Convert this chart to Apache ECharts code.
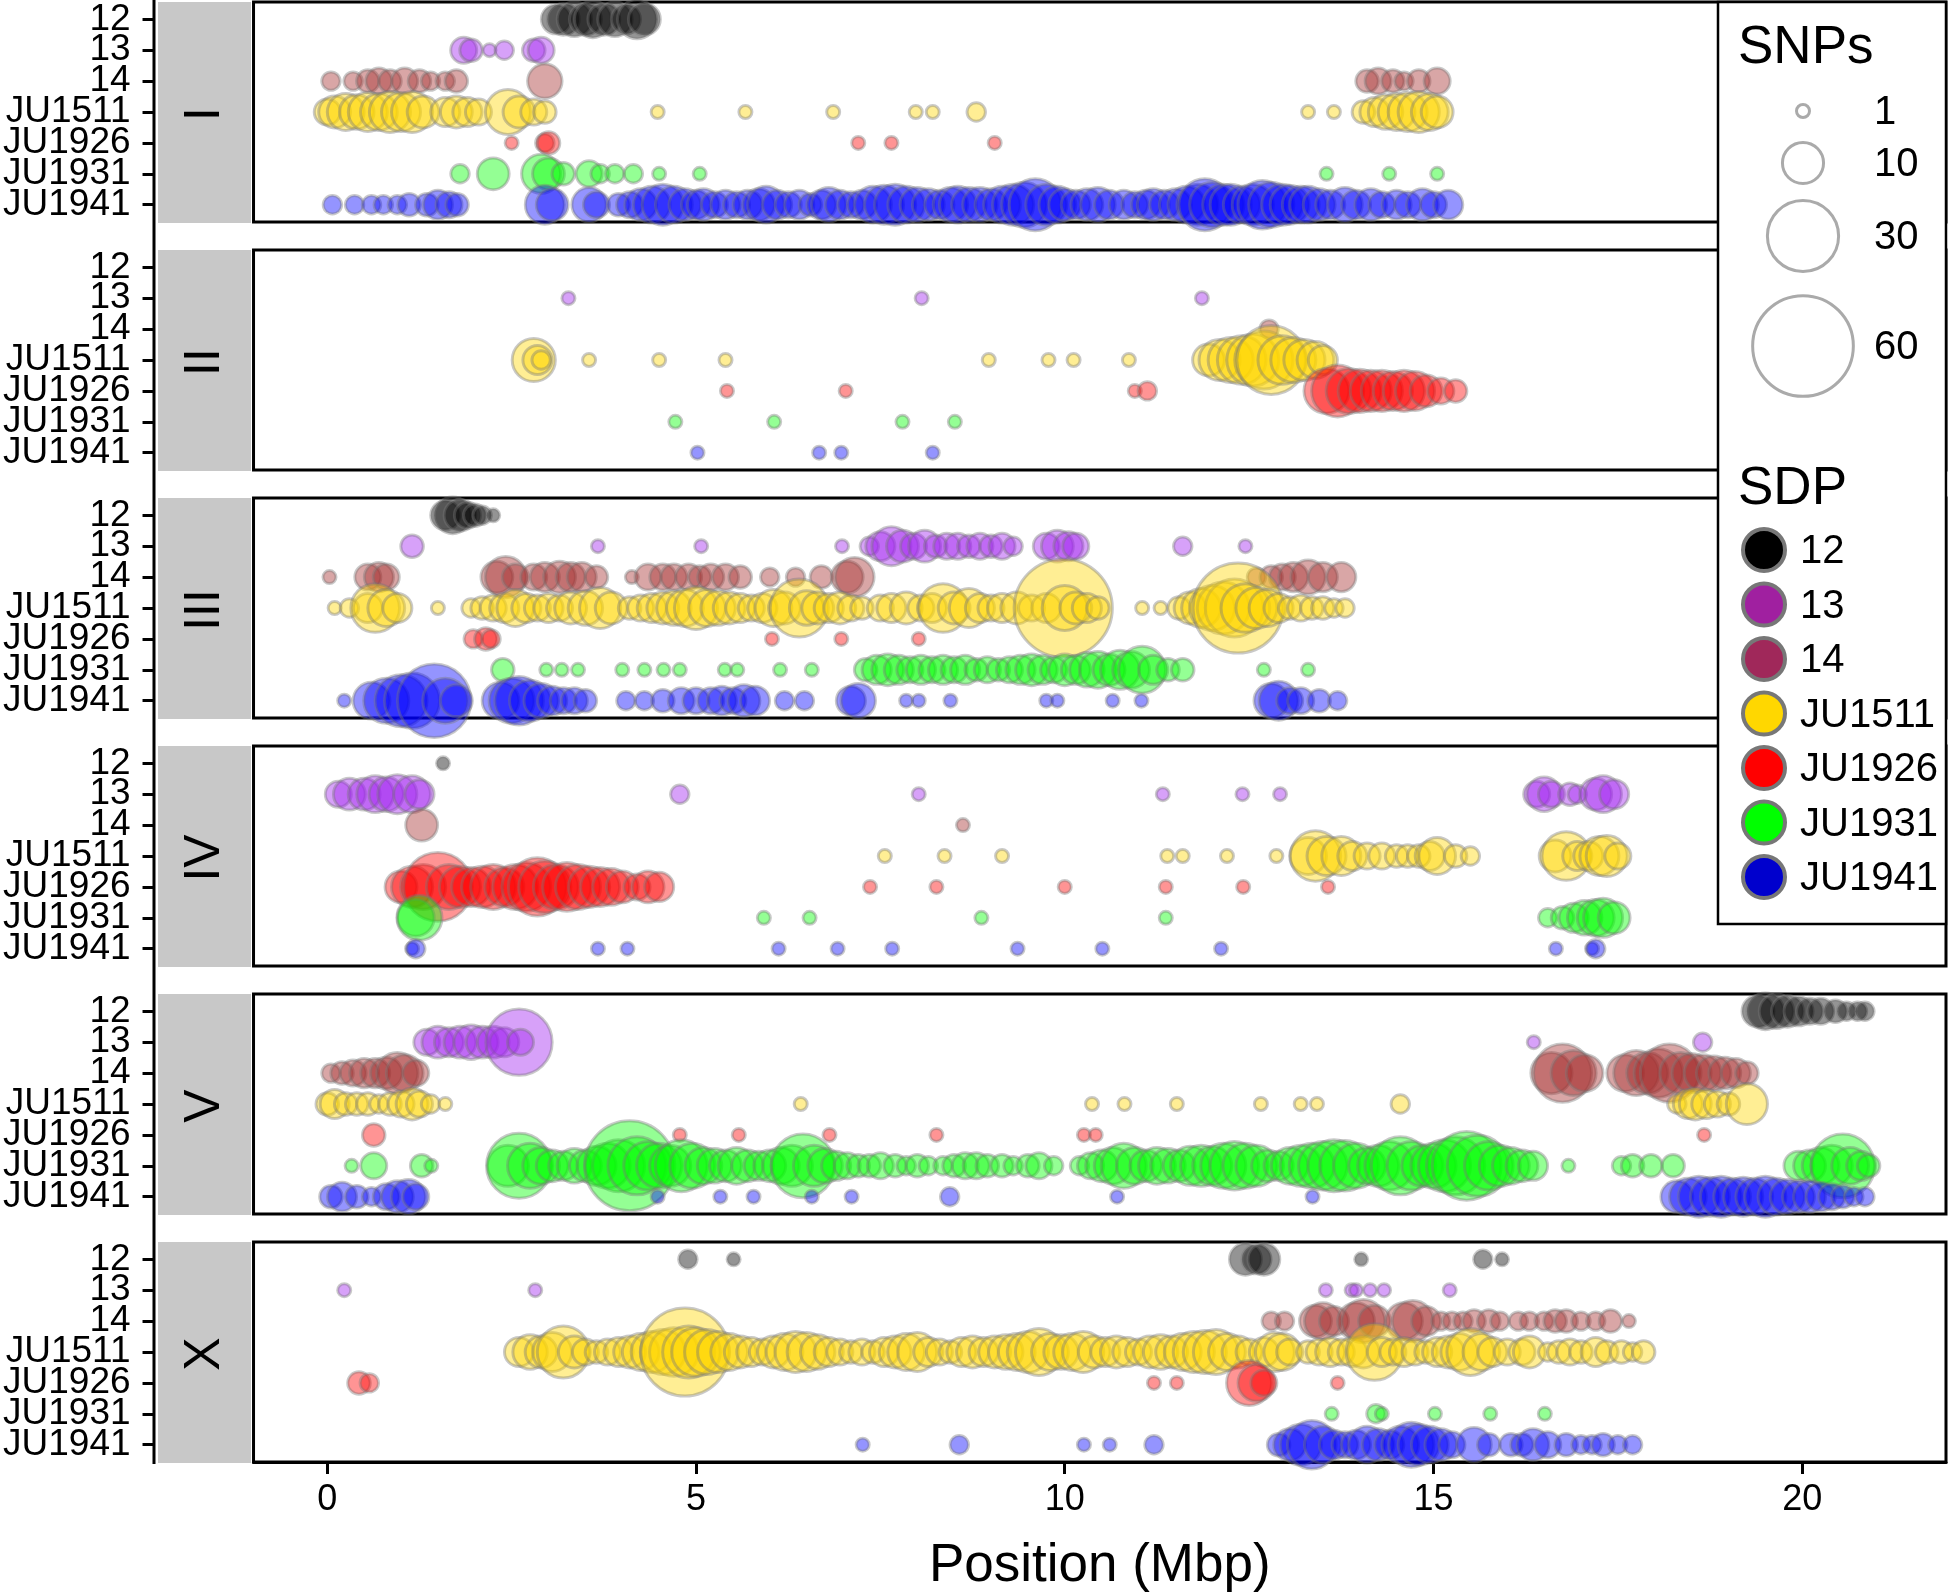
<!DOCTYPE html>
<html>
<head>
<meta charset="utf-8">
<script src="https://cdn.jsdelivr.net/npm/echarts@6/dist/echarts.min.js"></script>
<style>html,body{margin:0;padding:0;background:#fff}#c{width:1948px;height:1596px}</style>
</head>
<body>
<div id="c"></div>
<script>
// ---------- tick labels / categories ----------
const ROWS = ['12','13','14','JU1511','JU1926','JU1931','JU1941'];
const CHROMS = ['I','II','III','IV','V','X'];
const X_TICKS = [0,5,10,15,20];
const SNP_LEGEND = [1,10,30,60];
const SDP_LEGEND = ['12','13','14','JU1511','JU1926','JU1931','JU1941'];

// ---------- data: [position (Mbp), SNP count] ----------
// Chromosome I
const I_12 = [[3.1,5],[3.2,6],[3.35,7],[3.5,6],[3.6,8],[3.75,6],[3.9,7],[4.05,5],[4.2,9],[4.3,6]];
const I_13 = [[1.85,4],[1.95,3],[2.2,1],[2.4,2],[2.8,3],[2.9,4]];
const I_14 = [[0.05,2],[0.35,2],[0.55,3],[0.7,4],[0.85,3],[1.05,4],[1.25,3],[1.4,2],[1.6,2],[1.75,3],[2.95,7],
  [14.1,3],[14.25,4],[14.45,3],[14.6,2],[14.8,3],[15.05,4]];
const I_JU1511 = [[0.0,4],[0.1,6],[0.25,8],[0.4,7],[0.55,9],[0.7,8],[0.85,10],[1.0,9],[1.15,10],[1.3,6],[1.6,5],[1.75,6],[1.9,5],[2.05,4],[2.45,12],[2.6,6],[2.8,4],[2.95,3],
  [4.48,1],[5.67,1],[6.86,1],[7.98,1],[8.21,1],[8.8,2],[13.3,1],[13.65,1],[14.05,3],[14.2,5],[14.35,7],[14.5,8],[14.65,9],[14.8,10],[14.95,8],[15.05,6]];
const I_JU1926 = [[2.5,1],[2.95,2],[3.0,3],[7.2,1],[7.65,1],[9.05,1]];
const I_JU1931 = [[1.8,2],[2.25,6],[2.9,9],[3.0,6],[3.2,3],[3.55,4],[3.7,2],[3.9,2],[4.15,2],[4.5,1],[5.05,1],[13.55,1],[14.4,1],[15.05,1]];
const I_JU1941 = [[0.07,2],[0.37,2],[0.6,2],[0.76,2],[0.95,2],[1.11,3],[1.35,3],[1.5,5],[1.65,4],[1.76,3],[2.95,9],[3.05,6],[3.55,7],[3.65,4],[3.95,3],[4.1,4],[4.25,6],[4.4,8],[4.55,10],[4.7,8],[4.85,6],[5.0,5],[5.1,6],[5.25,4],[5.4,5],[5.55,4],[5.7,5],[5.85,6],[5.95,8],[6.1,5],[6.25,4],[6.4,5],[6.55,3],[6.7,5],[6.8,7],[6.95,5],[7.1,4],[7.25,5],[7.4,8],[7.55,9],[7.7,10],[7.85,8],[8.0,7],[8.15,6],[8.3,5],[8.45,7],[8.55,8],[8.7,7],[8.85,7],[9.0,6],[9.15,8],[9.3,10],[9.45,12],[9.6,16],[9.75,10],[9.9,8],[10.0,6],[10.15,5],[10.3,6],[10.45,7],[10.6,5],[10.8,5],[10.95,4],[11.1,5],[11.2,6],[11.35,5],[11.5,6],[11.65,8],[11.8,10],[11.9,16],[12.0,12],[12.15,10],[12.25,10],[12.4,8],[12.55,10],[12.68,14],[12.8,12],[12.95,10],[13.05,9],[13.2,8],[13.3,8],[13.45,6],[13.6,5],[13.8,7],[13.95,5],[14.15,6],[14.3,4],[14.5,5],[14.65,4],[14.85,6],[15.0,4],[15.2,5]];

// Chromosome II
const II_12 = [];
const II_13 = [[3.27,1],[8.06,1],[11.86,1]];
const II_14 = [[12.77,2]];
const II_JU1511 = [[2.8,11],[2.85,5],[2.9,2],[3.55,1],[4.5,1],[5.4,1],[8.97,1],[9.78,1],[10.12,1],[10.87,1],[11.95,6],[12.1,10],[12.25,12],[12.4,14],[12.55,16],[12.7,20],[12.8,28],[12.95,14],[13.1,12],[13.25,10],[13.4,8],[13.5,5]];
const II_JU1926 = [[5.42,1],[7.03,1],[10.95,1],[11.12,2],[13.55,12],[13.7,16],[13.85,12],[14.0,11],[14.15,10],[14.3,10],[14.45,9],[14.6,10],[14.75,9],[14.9,6],[15.1,4],[15.3,3]];
const II_JU1931 = [[4.72,1],[6.06,1],[7.8,1],[8.51,1]];
const II_JU1941 = [[5.02,1],[6.67,1],[6.97,1],[8.21,1]];

// Chromosome III
const III_12 = [[1.6,5],[1.7,8],[1.8,6],[1.9,4],[2.0,3],[2.1,2],[2.25,1]];
const III_13 = [[1.15,3],[3.67,1],[5.07,1],[6.98,1],[7.35,2],[7.5,5],[7.65,9],[7.8,6],[7.95,4],[8.1,6],[8.25,3],[8.4,4],[8.55,4],[8.7,3],[8.85,4],[9.0,3],[9.15,4],[9.3,2],[9.75,4],[9.9,6],[10.05,5],[10.15,4],[11.6,2],[12.45,1]];
const III_14 = [[0.03,1],[0.55,4],[0.7,5],[0.8,4],[2.3,6],[2.42,10],[2.55,4],[2.8,4],[2.95,5],[3.15,6],[3.3,5],[3.45,5],[3.65,3],[4.13,1],[4.35,4],[4.55,4],[4.7,4],[4.9,4],[5.05,3],[5.2,4],[5.4,4],[5.6,3],[6.0,2],[6.35,2],[6.7,3],[7.05,6],[7.15,9],[12.6,2],[12.8,3],[12.95,4],[13.1,5],[13.3,7],[13.5,5],[13.75,5]];
const III_JU1511 = [[0.1,1],[0.3,2],[0.55,5],[0.65,14],[0.8,8],[0.95,5],[1.5,1],[1.95,2],[2.1,3],[2.25,4],[2.4,5],[2.55,8],[2.7,5],[2.85,4],[3.0,5],[3.15,4],[3.3,6],[3.5,7],[3.7,10],[3.85,6],[4.1,3],[4.25,4],[4.4,5],[4.55,6],[4.7,7],[4.85,8],[5.0,11],[5.15,8],[5.3,7],[5.45,6],[5.6,5],[5.75,4],[5.9,5],[6.05,8],[6.2,6],[6.4,20],[6.5,7],[6.65,6],[6.8,5],[6.95,6],[7.1,4],[7.25,3],[7.5,4],[7.65,5],[7.85,6],[8.05,4],[8.2,5],[8.35,14],[8.5,6],[8.7,9],[8.85,5],[9.0,4],[9.15,5],[9.35,6],[9.55,4],[9.75,5],[9.98,57],[10.0,12],[10.15,6],[10.3,5],[10.45,3],[11.05,1],[11.3,1],[11.55,3],[11.7,6],[11.85,9],[12.0,12],[12.15,16],[12.3,20],[12.35,48],[12.45,14],[12.6,10],[12.75,8],[12.9,5],[13.05,3],[13.2,4],[13.35,3],[13.5,3],[13.65,2],[13.8,2]];
const III_JU1926 = [[1.98,2],[2.15,3],[2.22,2],[6.03,1],[6.97,1],[8.02,1]];
const III_JU1931 = [[2.38,3],[2.97,1],[3.18,1],[3.4,1],[4.0,1],[4.3,1],[4.56,1],[4.78,1],[5.39,1],[5.56,1],[6.14,1],[6.57,1],[7.3,3],[7.45,5],[7.6,6],[7.75,5],[7.9,4],[8.05,5],[8.2,4],[8.35,5],[8.5,4],[8.65,5],[8.8,3],[8.95,4],[9.1,3],[9.25,4],[9.4,5],[9.55,6],[9.7,5],[9.85,4],[10.0,6],[10.15,5],[10.3,7],[10.45,8],[10.6,6],[10.75,9],[10.9,8],[11.05,13],[11.2,5],[11.4,3],[11.6,3],[12.7,1],[13.3,1]];
const III_JU1941 = [[0.23,1],[0.6,8],[0.8,12],[1.0,16],[1.15,18],[1.45,32],[1.6,12],[1.75,6],[2.35,8],[2.5,12],[2.6,14],[2.75,10],[2.9,7],[3.05,5],[3.2,4],[3.35,4],[3.5,3],[4.05,2],[4.3,2],[4.55,3],[4.8,4],[5.0,4],[5.2,4],[5.35,5],[5.5,4],[5.65,6],[5.8,5],[6.2,2],[6.47,2],[7.1,5],[7.2,7],[7.85,1],[8.02,1],[8.45,1],[9.75,1],[9.9,1],[10.65,1],[11.04,1],[12.8,7],[12.9,9],[13.05,4],[13.2,4],[13.45,3],[13.7,2]];

// Chromosome IV
const IV_12 = [[1.57,1]];
const IV_13 = [[0.15,4],[0.3,6],[0.5,6],[0.65,8],[0.8,7],[0.95,9],[1.15,8],[1.25,5],[4.78,2],[8.02,1],[11.33,1],[12.41,1],[12.92,1],[16.4,4],[16.5,7],[16.6,4],[16.85,3],[16.95,2],[17.2,6],[17.3,8],[17.45,5]];
const IV_14 = [[1.28,6],[8.62,1]];
const IV_JU1511 = [[7.56,1],[8.37,1],[9.15,1],[11.39,1],[11.6,1],[12.2,1],[12.87,1],[13.3,8],[13.4,15],[13.55,9],[13.75,9],[13.9,5],[14.1,4],[14.3,4],[14.5,3],[14.65,3],[14.8,3],[14.95,5],[15.05,8],[15.3,3],[15.5,2],[16.65,6],[16.8,14],[16.95,5],[17.1,5],[17.25,9],[17.35,10],[17.5,4]];
const IV_JU1926 = [[1.0,6],[1.15,10],[1.3,12],[1.5,28],[1.65,12],[1.8,10],[1.95,9],[2.1,10],[2.25,12],[2.4,9],[2.55,12],[2.7,14],[2.85,20],[2.95,16],[3.1,12],[3.25,14],[3.4,12],[3.55,10],[3.7,9],[3.85,8],[4.0,6],[4.2,4],[4.35,6],[4.5,5],[7.36,1],[8.26,1],[10.0,1],[11.37,1],[12.42,1],[13.57,1]];
const IV_JU1931 = [[1.2,8],[1.25,12],[5.92,1],[6.54,1],[8.87,1],[11.37,1],[16.55,2],[16.75,3],[16.9,5],[17.05,7],[17.2,8],[17.3,9],[17.45,6]];
const IV_JU1941 = [[1.15,1],[1.2,2],[3.67,1],[4.07,1],[6.12,1],[6.92,1],[7.66,1],[9.36,1],[10.51,1],[12.12,1],[16.66,1],[17.15,1],[17.2,2]];

// Chromosome V
const V_12 = [[19.4,6],[19.5,8],[19.65,7],[19.8,6],[19.95,5],[20.1,4],[20.25,4],[20.45,3],[20.6,2],[20.75,2],[20.85,2]];
const V_13 = [[1.35,4],[1.5,6],[1.65,5],[1.8,6],[1.95,7],[2.1,6],[2.25,6],[2.4,5],[2.6,26],[2.62,4],[16.36,1],[18.65,2]];
const V_14 = [[0.05,2],[0.2,3],[0.35,4],[0.5,5],[0.65,5],[0.8,6],[0.95,10],[1.05,8],[1.2,4],[16.6,10],[16.75,20],[16.9,12],[17.05,8],[17.6,8],[17.75,12],[17.9,10],[18.05,14],[18.2,20],[18.35,10],[18.5,9],[18.65,8],[18.8,7],[18.95,6],[19.1,5],[19.25,3]];
const V_JU1511 = [[0.0,3],[0.1,5],[0.25,3],[0.4,3],[0.55,3],[0.7,2],[0.85,3],[1.0,4],[1.15,6],[1.25,4],[1.4,2],[1.6,1],[6.42,1],[10.37,1],[10.81,1],[11.52,1],[12.66,1],[13.2,1],[13.42,1],[14.55,2],[18.3,2],[18.45,5],[18.55,6],[18.7,5],[18.85,4],[19.0,3],[19.25,10]];
const V_JU1926 = [[0.63,3],[4.78,1],[5.58,1],[6.81,1],[8.26,1],[10.26,1],[10.42,1],[18.67,1]];
const V_JU1931 = [[0.33,1],[0.63,4],[1.28,3],[1.41,1],[2.45,10],[2.6,25],[2.75,12],[2.9,8],[3.05,6],[3.2,5],[3.35,7],[3.5,6],[3.65,9],[3.8,12],[3.95,16],[4.1,48],[4.2,20],[4.35,14],[4.5,12],[4.65,10],[4.8,16],[4.95,12],[5.1,8],[5.25,7],[5.4,6],[5.55,8],[5.7,6],[5.85,5],[6.0,6],[6.15,8],[6.3,10],[6.45,24],[6.6,10],[6.75,7],[6.9,5],[7.05,4],[7.2,3],[7.35,3],[7.5,4],[7.7,3],[7.85,2],[8.0,3],[8.15,2],[8.35,2],[8.5,3],[8.65,4],[8.8,4],[8.95,3],[9.15,3],[9.3,2],[9.5,3],[9.65,4],[9.85,2],[10.2,2],[10.35,4],[10.5,6],[10.65,8],[10.8,12],[10.95,8],[11.1,6],[11.25,8],[11.4,7],[11.55,6],[11.7,9],[11.85,10],[12.0,9],[12.15,12],[12.3,14],[12.45,12],[12.6,10],[12.75,6],[12.9,5],[13.05,8],[13.2,10],[13.35,12],[13.5,14],[13.65,16],[13.8,15],[13.95,12],[14.1,8],[14.25,10],[14.4,14],[14.55,20],[14.7,14],[14.85,10],[15.0,12],[15.15,16],[15.3,20],[15.45,28],[15.6,22],[15.75,14],[15.9,10],[16.05,8],[16.2,6],[16.35,5],[16.83,1],[17.55,2],[17.7,3],[17.95,3],[18.25,3],[19.95,5],[20.1,6],[20.25,8],[20.4,10],[20.55,24],[20.65,8],[20.8,5],[20.9,3]];
const V_JU1941 = [[0.05,3],[0.2,5],[0.4,3],[0.6,2],[0.8,4],[0.95,6],[1.1,7],[1.2,4],[4.48,1],[5.33,1],[5.78,1],[6.57,1],[7.11,1],[8.44,2],[10.71,1],[13.36,1],[18.3,6],[18.45,8],[18.6,10],[18.75,9],[18.9,10],[19.05,8],[19.2,9],[19.35,8],[19.5,10],[19.65,8],[19.8,7],[19.95,6],[20.1,6],[20.25,5],[20.4,4],[20.55,3],[20.7,2],[20.85,2]];

// Chromosome X
const X_12 = [[4.89,2],[5.51,1],[12.45,6],[12.6,5],[12.7,6],[14.02,1],[15.67,2],[15.93,1]];
const X_13 = [[0.23,1],[2.82,1],[13.54,1],[13.89,1],[13.95,1],[14.14,1],[14.33,1],[15.22,1]];
const X_14 = [[12.8,2],[12.98,2],[13.4,6],[13.5,8],[13.65,5],[13.95,8],[14.05,11],[14.2,6],[14.6,8],[14.72,10],[14.9,5],[15.1,2],[15.25,2],[15.4,2],[15.55,3],[15.75,3],[15.9,2],[16.15,2],[16.3,2],[16.5,2],[16.65,3],[16.8,3],[17.0,2],[17.2,2],[17.4,3],[17.65,1]];
const X_JU1511 = [[2.6,5],[2.75,7],[2.9,6],[3.05,9],[3.2,16],[3.35,6],[3.5,4],[3.65,3],[3.8,4],[3.95,5],[4.1,6],[4.25,8],[4.4,10],[4.55,12],[4.7,14],[4.85,46],[4.9,16],[5.0,14],[5.15,12],[5.3,10],[5.45,8],[5.6,6],[5.75,5],[5.9,4],[6.05,6],[6.2,8],[6.35,10],[6.5,9],[6.65,7],[6.8,5],[6.95,4],[7.1,3],[7.25,4],[7.4,3],[7.55,5],[7.7,6],[7.85,8],[8.0,9],[8.15,5],[8.3,4],[8.45,3],[8.6,5],[8.75,6],[8.9,5],[9.05,6],[9.2,7],[9.35,8],[9.5,10],[9.65,13],[9.8,8],[9.95,7],[10.1,8],[10.25,10],[10.4,6],[10.55,5],[10.7,6],[10.85,5],[11.0,4],[11.15,6],[11.3,7],[11.45,6],[11.6,8],[11.75,10],[11.9,11],[12.05,12],[12.2,8],[12.35,6],[12.5,4],[12.7,5],[12.85,9],[12.95,8],[13.05,4],[13.3,3],[13.45,4],[13.6,5],[13.75,4],[13.9,5],[14.05,6],[14.2,19],[14.3,5],[14.45,4],[14.6,5],[14.75,4],[14.9,3],[15.05,5],[15.2,6],[15.35,8],[15.5,13],[15.65,8],[15.8,5],[16.0,4],[16.2,4],[16.3,6],[16.55,2],[16.7,3],[16.85,4],[17.0,3],[17.2,5],[17.35,3],[17.55,3],[17.7,2],[17.85,3]];
const X_JU1926 = [[0.43,3],[0.57,2],[11.21,1],[11.52,1],[12.5,12],[12.6,8],[12.7,4],[13.7,1]];
const X_JU1931 = [[13.62,1],[14.22,2],[14.3,1],[15.02,1],[15.77,1],[16.51,1]];
const X_JU1941 = [[7.26,1],[8.57,2],[10.26,1],[10.61,1],[11.21,2],[12.9,3],[13.05,6],[13.2,10],[13.35,14],[13.5,8],[13.65,5],[13.8,4],[13.95,5],[14.1,8],[14.25,6],[14.4,5],[14.55,8],[14.7,12],[14.8,10],[14.95,8],[15.1,6],[15.25,4],[15.55,7],[15.75,3],[16.05,3],[16.2,3],[16.35,6],[16.55,4],[16.8,3],[17.0,2],[17.15,2],[17.3,3],[17.5,2],[17.7,2]];

// ---------- assemble ----------
const PANELS = [
  [I_12, I_13, I_14, I_JU1511, I_JU1926, I_JU1931, I_JU1941],
  [II_12, II_13, II_14, II_JU1511, II_JU1926, II_JU1931, II_JU1941],
  [III_12, III_13, III_14, III_JU1511, III_JU1926, III_JU1931, III_JU1941],
  [IV_12, IV_13, IV_14, IV_JU1511, IV_JU1926, IV_JU1931, IV_JU1941],
  [V_12, V_13, V_14, V_JU1511, V_JU1926, V_JU1931, V_JU1941],
  [X_12, X_13, X_14, X_JU1511, X_JU1926, X_JU1931, X_JU1941]
];

const RGB = {
  '12': [0,0,0], '13': [160,32,240], '14': [165,42,42],
  'JU1511': [255,215,0], 'JU1926': [255,0,0], 'JU1931': [0,255,0], 'JU1941': [0,0,255]
};
const LEGEND_FILL = {
  '12': '#000000', '13': '#A020A0', '14': '#A0285A',
  'JU1511': '#FFD700', 'JU1926': '#FF0000', 'JU1931': '#00FF00', 'JU1941': '#0000CD'
};
const FONT = "'Liberation Sans', Arial, Helvetica, sans-serif";
const sizeOf = n => 13 * Math.sqrt(n);

const GRID_LEFT = 253, GRID_RIGHT = 2, PANEL_H = 220, PANEL_STEP = 248, TOP0 = 2;
const Y_MIN = -0.56, Y_MAX = 6.56;
const ROW_IDX = ROWS.map((r, i) => i);
const EVEN_IDX = ROW_IDX.filter(i => i % 2 === 0);
const ODD_IDX = ROW_IDX.filter(i => i % 2 === 1);

const grids = [], xAxes = [], yAxes = [], series = [], graphics = [];
const yLabelStyle = {fontSize: 37, color: '#000', fontFamily: FONT, margin: 24,
  showMinLabel: true, showMaxLabel: true, formatter: v => ROWS[Math.round(v)]};
CHROMS.forEach((chr, c) => {
  const top = TOP0 + c * PANEL_STEP;
  const last = c === CHROMS.length - 1;
  grids.push({left: GRID_LEFT, right: GRID_RIGHT, top: top, height: PANEL_H,
    show: true, borderColor: '#000', borderWidth: 3, backgroundColor: '#fff'});
  xAxes.push({
    type: 'value', gridIndex: c, min: -1, max: 21.95, show: last,
    splitLine: {show: false},
    axisLine: {show: last, onZero: false, lineStyle: {color: '#000', width: 3}},
    axisTick: {show: last, length: 12, lineStyle: {color: '#000', width: 3}, customValues: X_TICKS},
    axisLabel: {show: last, customValues: X_TICKS, fontSize: 36, color: '#000', fontFamily: FONT, margin: 20,
      showMinLabel: true, showMaxLabel: true},
    name: last ? 'Position (Mbp)' : '', nameLocation: 'middle', nameGap: 78,
    nameTextStyle: {fontSize: 53, color: '#000', fontFamily: FONT}
  });
  // main y axis: all ticks, labels of even rows
  yAxes.push({
    type: 'value', gridIndex: c, min: Y_MIN, max: Y_MAX, inverse: true, position: 'left', offset: 99,
    splitLine: {show: false},
    axisLine: {show: false, onZero: false},
    axisTick: {show: true, length: 12, lineStyle: {color: '#000', width: 3}, customValues: ROW_IDX},
    axisLabel: Object.assign({customValues: EVEN_IDX}, yLabelStyle)
  });
  // companion y axis: labels of odd rows (same scale and position)
  yAxes.push({
    type: 'value', gridIndex: c, min: Y_MIN, max: Y_MAX, inverse: true, position: 'left', offset: 99,
    splitLine: {show: false},
    axisLine: {show: false, onZero: false},
    axisTick: {show: false},
    axisLabel: Object.assign({customValues: ODD_IDX}, yLabelStyle)
  });
  PANELS[c].forEach((arr, r) => {
    const [R, G, B] = RGB[ROWS[r]];
    series.push({
      type: 'scatter', name: ROWS[r], xAxisIndex: c, yAxisIndex: 2 * c, clip: true, silent: true,
      data: arr.map(d => [d[0], r, d[1]]),
      symbol: 'circle',
      symbolSize: v => sizeOf(v[2]),
      itemStyle: {color: `rgba(${R},${G},${B},0.42)`, borderColor: 'rgba(120,120,120,0.4)', borderWidth: 3, opacity: 1}
    });
  });
  // strip
  graphics.push({type: 'rect', left: 158, top: top, shape: {width: 93, height: PANEL_H + 1},
    style: {fill: '#C8C8C8'}, z: 50});
  graphics.push({type: 'text', x: 205, y: top + PANEL_H / 2 + 2, rotation: Math.PI / 2,
    style: {text: chr, fontSize: 50, fontFamily: FONT, fill: '#000', align: 'center', verticalAlign: 'middle'}, z: 51});
});
// continuous left axis line
graphics.push({type: 'line', shape: {x1: 154, y1: 0, x2: 154, y2: 1464}, style: {stroke: '#000', lineWidth: 3}, z: 50});

// legend box
const LX = 1718, LW = 228;
graphics.push({type: 'rect', shape: {x: LX, y: 2, width: LW, height: 922},
  style: {fill: '#fff', stroke: '#000', lineWidth: 2.5}, z: 100});
graphics.push({type: 'text', x: 1738, y: 48, style: {text: 'SNPs', fontSize: 53, fontFamily: FONT, fill: '#000', align: 'left', verticalAlign: 'middle'}, z: 101});
const SNP_Y = [111, 163, 236, 346];
SNP_LEGEND.forEach((n, i) => {
  graphics.push({type: 'circle', shape: {cx: 1803, cy: SNP_Y[i], r: sizeOf(n) / 2},
    style: {fill: 'none', stroke: '#AAAAAA', lineWidth: 3}, z: 101});
  graphics.push({type: 'text', x: 1874, y: SNP_Y[i] + 2, style: {text: String(n), fontSize: 40, fontFamily: FONT, fill: '#000', align: 'left', verticalAlign: 'middle'}, z: 101});
});
graphics.push({type: 'text', x: 1738, y: 489, style: {text: 'SDP', fontSize: 53, fontFamily: FONT, fill: '#000', align: 'left', verticalAlign: 'middle'}, z: 101});
SDP_LEGEND.forEach((name, i) => {
  const cy = 550 + i * 54.5;
  graphics.push({type: 'circle', shape: {cx: 1764, cy: cy, r: 21},
    style: {fill: LEGEND_FILL[name], stroke: '#777777', lineWidth: 4}, z: 101});
  graphics.push({type: 'text', x: 1800, y: cy + 2, style: {text: name, fontSize: 40, fontFamily: FONT, fill: '#000', align: 'left', verticalAlign: 'middle'}, z: 101});
});

const chart = echarts.init(document.getElementById('c'), null, {renderer: 'canvas'});
chart.setOption({
  animation: false,
  backgroundColor: '#fff',
  grid: grids, xAxis: xAxes, yAxis: yAxes, series: series, graphic: graphics
});
</script>
</body>
</html>
